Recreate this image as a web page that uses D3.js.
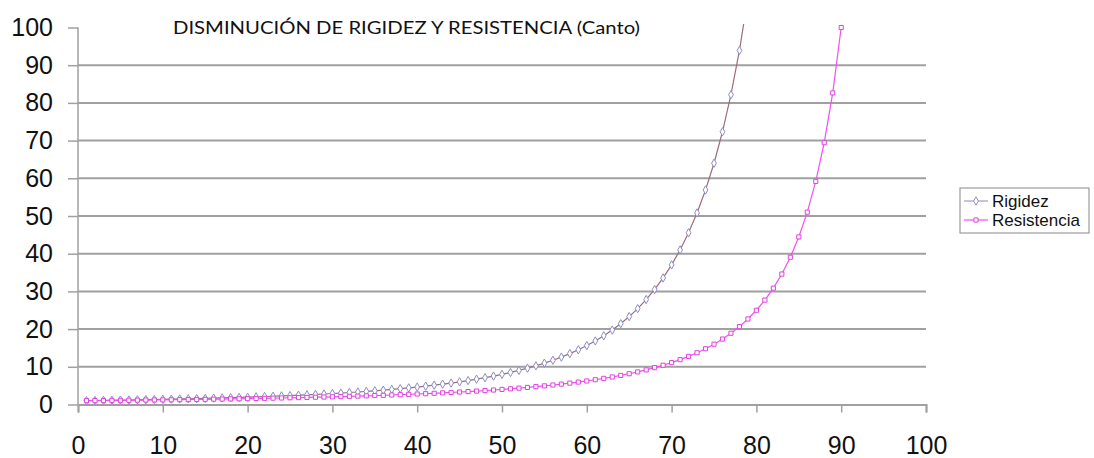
<!DOCTYPE html>
<html>
<head>
<meta charset="utf-8">
<script src="https://cdn.jsdelivr.net/npm/d3@7"></script>
<style>
  body { margin: 0; background: #fff; }
  svg { display: block; }
</style>
</head>
<body>
<div id="chart"></div>
<script>
(function () {
  "use strict";

  var title = "DISMINUCIÓN DE RIGIDEZ Y RESISTENCIA (Canto)";
  var seriesNames = ["Rigidez", "Resistencia"];
  var xTicks = [0, 10, 20, 30, 40, 50, 60, 70, 80, 90, 100];
  var yTicks = [0, 10, 20, 30, 40, 50, 60, 70, 80, 90, 100];

  // values, one per unit on x starting at 1
  var rigidez = [
    1.03, 1.06, 1.10, 1.13, 1.17, 1.20, 1.24, 1.28, 1.33, 1.37,
    1.42, 1.47, 1.52, 1.57, 1.63, 1.69, 1.75, 1.81, 1.88, 1.95,
    2.03, 2.11, 2.19, 2.28, 2.37, 2.47, 2.57, 2.68, 2.79, 2.92,
    3.04, 3.18, 3.32, 3.48, 3.64, 3.81, 4.00, 4.20, 4.41, 4.63,
    4.87, 5.13, 5.40, 5.69, 6.01, 6.35, 6.72, 7.11, 7.54, 8.00,
    8.50, 9.04, 9.63, 10.27, 10.97, 11.74, 12.58, 13.50, 14.51, 15.63,
    16.86, 18.22, 19.74, 21.43, 23.32, 25.44, 27.83, 30.52, 33.57, 37.04,
    41.00, 45.55, 50.81, 56.90, 64.00, 72.34, 82.19, 93.91, 107.98
  ];
  var resistencia = [
    1.02, 1.04, 1.06, 1.09, 1.11, 1.13, 1.16, 1.18, 1.21, 1.23,
    1.26, 1.29, 1.32, 1.35, 1.38, 1.42, 1.45, 1.49, 1.52, 1.56,
    1.60, 1.64, 1.69, 1.73, 1.78, 1.83, 1.88, 1.93, 1.98, 2.04,
    2.10, 2.16, 2.23, 2.30, 2.37, 2.44, 2.52, 2.60, 2.69, 2.78,
    2.87, 2.97, 3.08, 3.19, 3.31, 3.43, 3.56, 3.70, 3.84, 4.00,
    4.16, 4.34, 4.53, 4.73, 4.94, 5.17, 5.41, 5.67, 5.95, 6.25,
    6.57, 6.93, 7.30, 7.72, 8.16, 8.65, 9.18, 9.77, 10.41, 11.11,
    11.89, 12.76, 13.72, 14.79, 16.00, 17.36, 18.90, 20.66, 22.68, 25.00,
    27.70, 30.86, 34.60, 39.06, 44.44, 51.02, 59.17, 69.44, 82.64, 100.00
  ];

  var width = 1094, height = 458;
  var left = 78, right = 926, top = 27.5, bottom = 404.5;

  var svg = d3.select("#chart").append("svg")
    .attr("width", width)
    .attr("height", height);

  svg.append("rect")
    .attr("width", width)
    .attr("height", height)
    .attr("fill", "#fff");

  var x = d3.scaleLinear().domain([0, 100]).range([left, right]);
  var y = d3.scaleLinear().domain([0, 100]).range([bottom, top]);

  var gridColor = "#a0a0a0";
  var labelFont = "'Liberation Sans', Arial, sans-serif";

  // horizontal gridlines
  svg.append("g")
    .selectAll("line")
    .data(yTicks.filter(function (t) { return t > 0 && t < 100; }))
    .enter().append("line")
    .attr("x1", x(0))
    .attr("x2", x(100))
    .attr("y1", function (d) { return y(d); })
    .attr("y2", function (d) { return y(d); })
    .attr("stroke", gridColor)
    .attr("stroke-width", 2);

  // y axis
  var yAxis = svg.append("g")
    .attr("transform", "translate(" + left + ",0)")
    .call(d3.axisLeft(y).tickValues(yTicks).tickSize(10).tickPadding(15));
  yAxis.select(".domain").remove();
  yAxis.selectAll(".tick line").attr("stroke", gridColor).attr("stroke-width", 1.5);
  yAxis.selectAll("text")
    .attr("font-family", labelFont)
    .attr("font-size", "25px")
    .attr("fill", "#111");
  svg.append("line")
    .attr("x1", left).attr("x2", left)
    .attr("y1", y(100)).attr("y2", y(0))
    .attr("stroke", gridColor)
    .attr("stroke-width", 1.5);

  // x axis
  var xAxis = svg.append("g")
    .attr("transform", "translate(0," + bottom + ")")
    .call(d3.axisBottom(x).tickValues(xTicks).tickSize(8).tickPadding(24));
  xAxis.select(".domain")
    .attr("stroke", gridColor)
    .attr("stroke-width", 2);
  xAxis.selectAll(".tick line").attr("stroke", gridColor).attr("stroke-width", 1.5);
  xAxis.selectAll("text")
    .attr("font-family", labelFont)
    .attr("font-size", "25px")
    .attr("fill", "#111");

  // title
  svg.append("text")
    .attr("x", 173)
    .attr("y", 34)
    .attr("font-family", "Lato, 'Open Sans', sans-serif")
    .attr("font-size", "18px")
    .attr("textLength", 467)
    .attr("lengthAdjust", "spacingAndGlyphs")
    .attr("fill", "#111")
    .text(title);

  // series
  svg.append("clipPath").attr("id", "plotClip")
    .append("rect")
    .attr("x", left)
    .attr("y", 24)
    .attr("width", right - left + 6)
    .attr("height", bottom - 24 + 4);

  var series = [
    { name: seriesNames[0], values: rigidez, line: "#9a6f78", marker: "#8c8cc8", symbol: d3.symbolDiamond, size: 20 },
    { name: seriesNames[1], values: resistencia, line: "#f050f0", marker: "#e040e0", symbol: d3.symbolSquare, size: 17 }
  ];

  var line = d3.line()
    .x(function (d, i) { return x(i + 1); })
    .y(function (d) { return y(d); });

  var plot = svg.append("g").attr("clip-path", "url(#plotClip)");

  series.forEach(function (s) {
    var g = plot.append("g");
    g.append("path")
      .datum(s.values)
      .attr("d", line)
      .attr("fill", "none")
      .attr("stroke", s.line)
      .attr("stroke-width", 1.2);
    g.selectAll("path.marker")
      .data(s.values.filter(function (v) { return v <= 100; }))
      .enter().append("path")
      .attr("class", "marker")
      .attr("d", d3.symbol().type(s.symbol).size(s.size))
      .attr("transform", function (d, i) { return "translate(" + x(i + 1) + "," + y(d) + ")"; })
      .attr("fill", "#fff")
      .attr("stroke", s.marker)
      .attr("stroke-width", 1);
  });

  // legend
  var legend = svg.append("g").attr("transform", "translate(960,188)");
  legend.append("rect")
    .attr("x", 0).attr("y", 0)
    .attr("width", 129).attr("height", 45)
    .attr("fill", "#fff")
    .attr("stroke", "#888")
    .attr("stroke-width", 1);

  series.forEach(function (s, i) {
    var ly = 13 + i * 19;
    legend.append("line")
      .attr("x1", 4).attr("x2", 28)
      .attr("y1", ly).attr("y2", ly)
      .attr("stroke", i === 0 ? "#a0a0c8" : s.line)
      .attr("stroke-width", 1.2);
    legend.append("path")
      .attr("d", d3.symbol().type(s.symbol).size(s.size))
      .attr("transform", "translate(16," + ly + ")")
      .attr("fill", "#fff")
      .attr("stroke", s.marker)
      .attr("stroke-width", 1);
    legend.append("text")
      .attr("x", 32)
      .attr("y", ly)
      .attr("dy", "0.35em")
      .attr("font-family", labelFont)
      .attr("font-size", "17px")
      .attr("fill", "#111")
      .text(s.name);
  });
}());
</script>
</body>
</html>
